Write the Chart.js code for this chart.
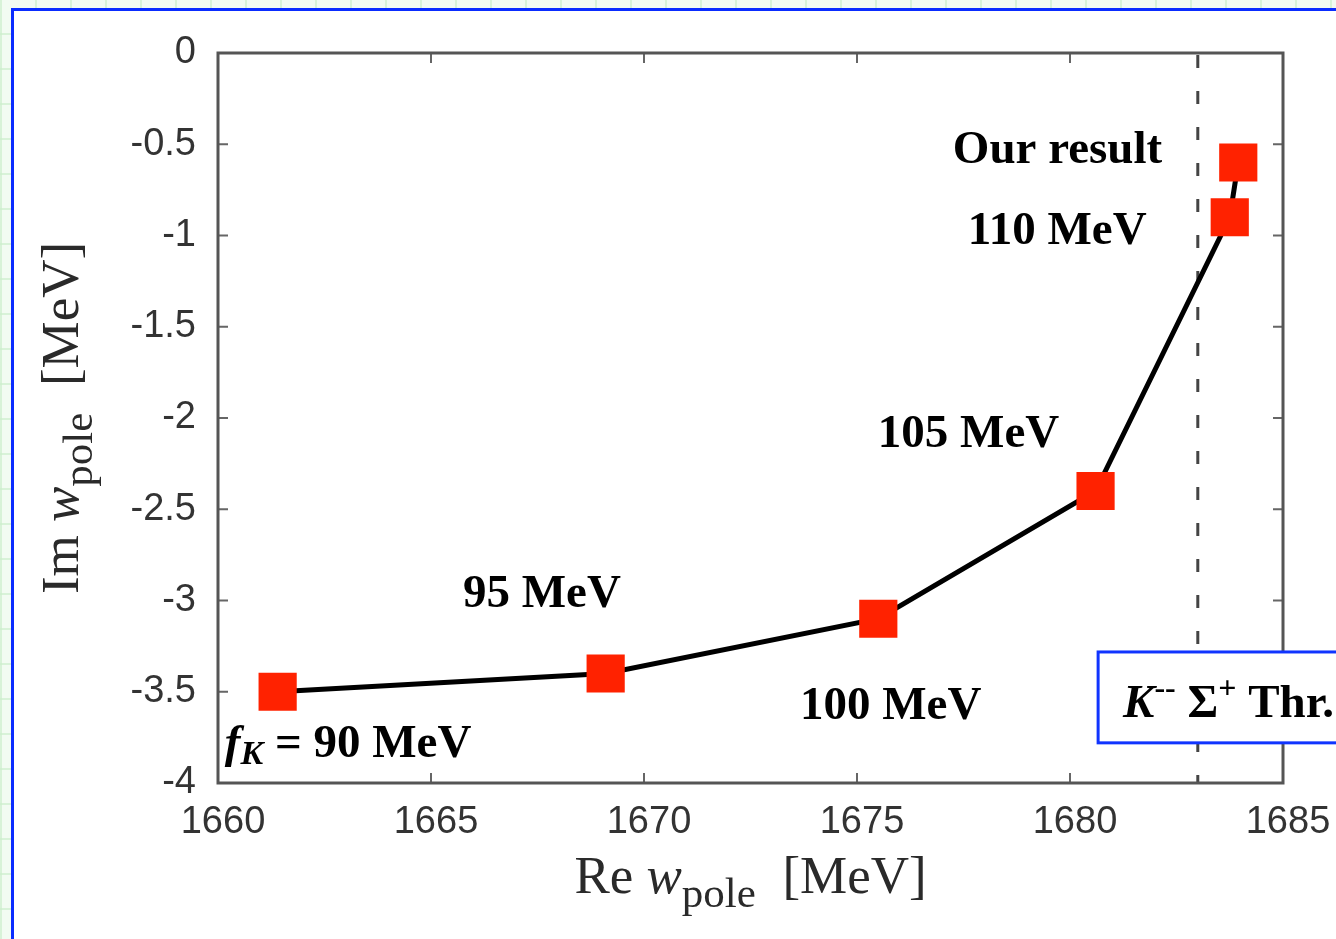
<!DOCTYPE html>
<html><head><meta charset="utf-8">
<script src="https://cdn.jsdelivr.net/npm/chart.js@4/dist/chart.umd.min.js"></script>
<style>
html,body{margin:0;padding:0;width:1336px;height:939px;overflow:hidden;}
body{background-color:#f2fbf2;
 background-image:linear-gradient(90deg, rgba(205,238,205,0.7) 2px, transparent 2px), linear-gradient(0deg, rgba(205,238,205,0.7) 2px, transparent 2px);
 background-size:35px 35px;}
#page{position:absolute;left:11px;top:8px;width:1400px;height:1000px;background:#fff;border-left:3px solid #0a2cff;border-top:3px solid #0a2cff;}
#wrap{position:absolute;left:0;top:0;width:1336px;height:939px;}
</style></head>
<body>
<div id="page"></div>
<div id="wrap"><canvas id="c"></canvas></div>
<script>
// ---- data ----
const fKLabels = ['90 MeV', '95 MeV', '100 MeV', '105 MeV', '110 MeV', 'Our result'];
const reW = [1661.4, 1669.1, 1675.5, 1680.6, 1683.75, 1683.95];
const imW = [-3.5, -3.4, -3.1, -2.4, -0.9, -0.6];
const xTickValues = [1660, 1665, 1670, 1675, 1680, 1685];
const yTickValues = [0, -0.5, -1, -1.5, -2, -2.5, -3, -3.5, -4];
const thresholdRe = 1683.0;

// annotation anchors (data coords)
const annot = [
  {x: 1677.25, y: -0.603, segs: [['Our result', 'b']]},
  {x: 1677.6, y: -1.047, segs: [['110 MeV', 'b']]},
  {x: 1675.49, y: -2.159, segs: [['105 MeV', 'b']]},
  {x: 1665.75, y: -3.036, segs: [['95 MeV', 'b']]},
  {x: 1673.66, y: -3.649, segs: [['100 MeV', 'b']]},
  {x: 1660.16, y: -3.858, segs: [['f', 'bi'], ['K', 'bisub'], [' = 90 MeV', 'b']]}
];
const thrBox = {x: 1680.66, y: -3.282, y2: -3.78};

const SERIF = '"Liberation Serif", "Times New Roman", serif';
const SANS = '"Liberation Sans", Arial, sans-serif';
const fonts = {
  b: {f: 'bold 47px ' + SERIF, dy: 0},
  bi: {f: 'italic bold 47px ' + SERIF, dy: 0},
  bisub: {f: 'italic bold 34px ' + SERIF, dy: 7},
  sup: {f: 'bold 32px ' + SERIF, dy: -19},
  r: {f: '53px ' + SERIF, dy: 0},
  ri: {f: 'italic 53px ' + SERIF, dy: 0},
  rsub: {f: '43px ' + SERIF, dy: 14}
};

function drawRich(ctx, x, y, segs, align) {
  let w = 0;
  const items = segs.map(s => {
    const fo = fonts[s[1]];
    ctx.font = fo.f;
    const mw = ctx.measureText(s[0]).width;
    w += mw;
    return {t: s[0], f: fo.f, dy: fo.dy, w: mw};
  });
  let cx = align === 'center' ? x - w / 2 : x;
  ctx.textAlign = 'left';
  ctx.textBaseline = 'alphabetic';
  items.forEach(it => { ctx.font = it.f; ctx.fillText(it.t, cx, y + it.dy); cx += it.w; });
}

const framePlugin = {
  id: 'frame',
  beforeDatasetsDraw(chart) {
    const {ctx, chartArea: a, scales: {x, y}} = chart;
    ctx.save();
    // threshold dashed line
    const tx = x.getPixelForValue(thresholdRe);
    ctx.strokeStyle = '#444'; ctx.lineWidth = 3; ctx.setLineDash([13, 23]);
    ctx.beginPath(); ctx.moveTo(tx, a.top + 2); ctx.lineTo(tx, a.bottom); ctx.stroke();
    ctx.setLineDash([]);
    // inward ticks on all four sides
    ctx.strokeStyle = '#666'; ctx.lineWidth = 2;
    ctx.beginPath();
    xTickValues.forEach(v => {
      const px = x.getPixelForValue(v);
      ctx.moveTo(px, a.bottom); ctx.lineTo(px, a.bottom - 10);
      ctx.moveTo(px, a.top); ctx.lineTo(px, a.top + 10);
    });
    yTickValues.forEach(v => {
      const py = y.getPixelForValue(v);
      ctx.moveTo(a.left, py); ctx.lineTo(a.left + 10, py);
      ctx.moveTo(a.right, py); ctx.lineTo(a.right - 10, py);
    });
    ctx.stroke();
    // frame
    ctx.strokeStyle = '#555'; ctx.lineWidth = 3;
    ctx.strokeRect(a.left, a.top, a.right - a.left, a.bottom - a.top);
    ctx.restore();
  },
  afterDraw(chart) {
    const {ctx, chartArea: a, scales: {x, y}} = chart;
    ctx.save();
    ctx.fillStyle = '#000';
    annot.forEach(an => drawRich(ctx, x.getPixelForValue(an.x), y.getPixelForValue(an.y), an.segs, 'left'));
    // threshold label box
    const bx = x.getPixelForValue(thrBox.x), by = y.getPixelForValue(thrBox.y), by2 = y.getPixelForValue(thrBox.y2);
    ctx.fillStyle = '#fff';
    ctx.fillRect(bx, by, 400, by2 - by);
    ctx.strokeStyle = '#1034ff'; ctx.lineWidth = 3;
    ctx.strokeRect(bx, by, 400, by2 - by);
    ctx.fillStyle = '#000';
    drawRich(ctx, bx + 25, by + 65, [['K', 'bi'], ['--', 'sup'], [' ', 'b'], ['\u03A3', 'b'], ['+', 'sup'], [' Thr.', 'b']], 'left');
    // axis titles
    ctx.fillStyle = '#2a2a2a';
    drawRich(ctx, (a.left + a.right) / 2, 893, [['Re ', 'r'], ['w', 'ri'], ['pole', 'rsub'], ['  [MeV]', 'r']], 'center');
    ctx.translate(78, (a.top + a.bottom) / 2);
    ctx.rotate(-Math.PI / 2);
    drawRich(ctx, 0, 0, [['Im ', 'r'], ['w', 'ri'], ['pole', 'rsub'], ['  [MeV]', 'r']], 'center');
    ctx.restore();
  }
};

new Chart(document.getElementById('c'), {
  type: 'scatter',
  data: {
    labels: fKLabels,
    datasets: [{
      label: 'pole',
      data: reW.map((v, i) => ({x: v, y: imW[i]})),
      showLine: true,
      borderColor: '#000',
      borderWidth: 5,
      pointStyle: 'rect',
      pointRadius: 27,
      pointHoverRadius: 27,
      pointBackgroundColor: '#ff2200',
      pointBorderColor: '#ff2200',
      pointBorderWidth: 0,
      clip: false
    }]
  },
  options: {
    responsive: true,
    maintainAspectRatio: false,
    animation: false,
    events: [],
    layout: {padding: {top: 53, right: 53, left: 0, bottom: 0}},
    plugins: {legend: {display: false}, tooltip: {enabled: false}},
    scales: {
      x: {
        type: 'linear', min: 1660, max: 1685,
        afterBuildTicks: s => { s.ticks = xTickValues.map(v => ({value: v})); },
        afterFit: s => { s.height = 156; s.paddingLeft = 0; s.paddingRight = 0; },
        grid: {display: false, drawTicks: false},
        border: {display: false},
        ticks: {callback: v => String(v), font: {family: SANS, size: 38}, color: '#333', padding: 17, labelOffset: 5, maxRotation: 0, autoSkip: false}
      },
      y: {
        type: 'linear', min: -4, max: 0,
        afterBuildTicks: s => { s.ticks = yTickValues.map(v => ({value: v})); },
        afterFit: s => { s.width = 218; s.paddingTop = 0; s.paddingBottom = 0; },
        grid: {display: false, drawTicks: false},
        border: {display: false},
        ticks: {callback: v => String(v), font: {family: SANS, size: 38}, color: '#333', padding: 22, autoSkip: false}
      }
    }
  },
  plugins: [framePlugin]
});
</script>
</body></html>
